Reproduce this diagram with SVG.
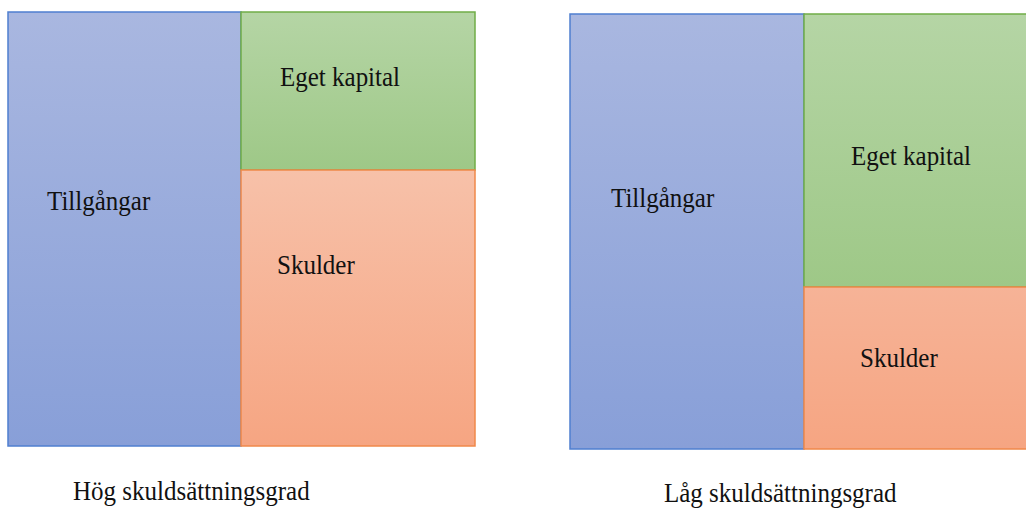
<svg xmlns="http://www.w3.org/2000/svg" width="1026" height="508" viewBox="0 0 1026 508">
<defs>
<linearGradient id="gb" x1="0" y1="0" x2="0" y2="1"><stop offset="0" stop-color="#a9b7e0"/><stop offset="1" stop-color="#889fd8"/></linearGradient>
<linearGradient id="gg" x1="0" y1="0" x2="0" y2="1"><stop offset="0" stop-color="#b5d5a5"/><stop offset="1" stop-color="#9ec887"/></linearGradient>
<linearGradient id="go1" x1="0" y1="0" x2="0" y2="1"><stop offset="0" stop-color="#f7c1a9"/><stop offset="1" stop-color="#f6a582"/></linearGradient>
<linearGradient id="go2" x1="0" y1="0" x2="0" y2="1"><stop offset="0" stop-color="#f6b397"/><stop offset="1" stop-color="#f6a582"/></linearGradient>
</defs>
<style>
.b{fill:url(#gb);stroke:#4f7fd0;stroke-width:1.5}
.g{fill:url(#gg);stroke:#70ad47;stroke-width:1.5}
.o1{fill:url(#go1);stroke:#f0894a;stroke-width:1.5}
.o2{fill:url(#go2);stroke:#f0894a;stroke-width:1.5}
text{font-family:"Liberation Serif","Times New Roman",serif;font-size:25px;fill:#111}
</style>
<rect width="1026" height="508" fill="#fff"/>
<g id="hog">
<g id="hog-tillgangar"><rect class="b" x="8" y="12" width="233" height="434"/><text transform="translate(47,210) scale(1,1.06)">Tillgångar</text></g>
<g id="hog-eget"><rect class="g" x="241" y="12" width="234" height="158"/><text transform="translate(280,86) scale(1,1.06)">Eget kapital</text></g>
<g id="hog-skulder"><rect class="o1" x="241" y="170" width="234" height="276"/><text transform="translate(277,274) scale(1,1.06)">Skulder</text></g>
<text id="hog-caption" transform="translate(73,500) scale(1,1.06)">Hög skuldsättningsgrad</text>
</g>
<g id="lag">
<g id="lag-tillgangar"><rect class="b" x="570" y="14" width="234" height="435"/><text transform="translate(611,207) scale(1,1.06)">Tillgångar</text></g>
<g id="lag-eget"><rect class="g" x="804" y="14" width="230" height="273"/><text transform="translate(851,165) scale(1,1.06)">Eget kapital</text></g>
<g id="lag-skulder"><rect class="o2" x="804" y="287" width="230" height="162"/><text transform="translate(860,367) scale(1,1.06)">Skulder</text></g>
<text id="lag-caption" transform="translate(664,502) scale(1,1.06)">Låg skuldsättningsgrad</text>
</g>
<g id="connectors"/>
</svg>
